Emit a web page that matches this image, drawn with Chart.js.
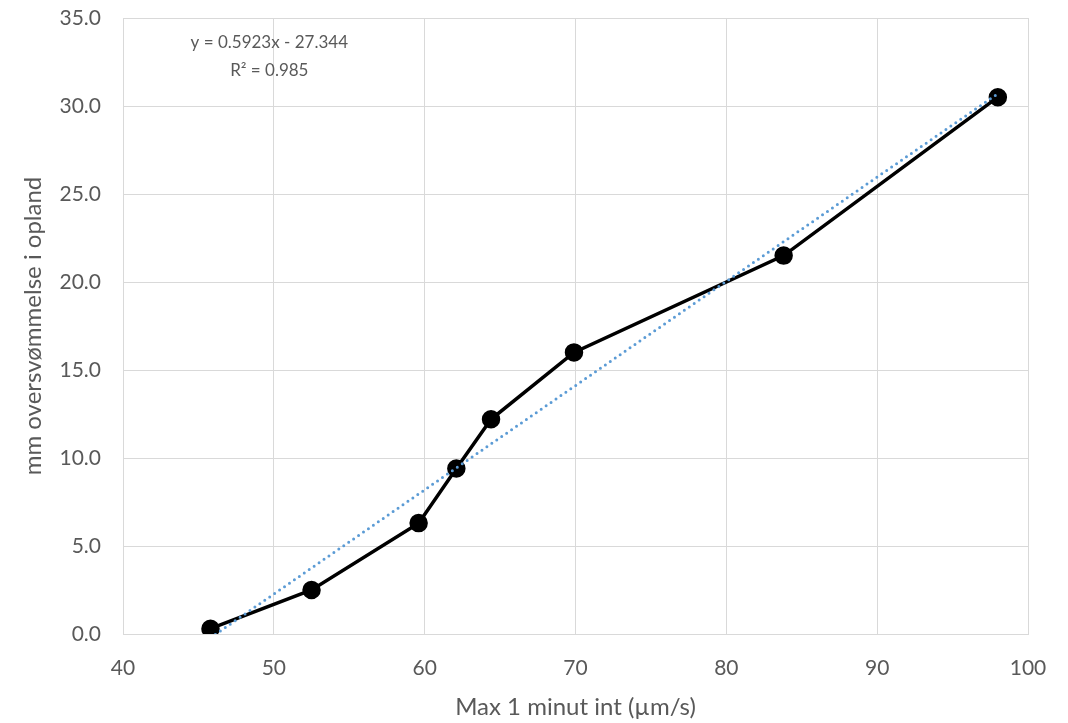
<!DOCTYPE html>
<html>
<head>
<meta charset="utf-8">
<script src="https://cdn.jsdelivr.net/npm/chart.js@4/dist/chart.umd.min.js"></script>
<style>
  html, body { margin: 0; padding: 0; background: #fff; }
  #wrap { width: 1068px; height: 723px; }
</style>
</head>
<body>
<div id="wrap"><canvas id="chart0" width="1068" height="723"></canvas></div>
<script>
// measured points (x = max 1 minut int, y = mm oversvømmelse)
var xValues = [45.8, 52.5, 59.6, 62.1, 64.4, 69.9, 83.8, 98.0];
var yValues = [0.3, 2.5, 6.3, 9.4, 12.2, 16.0, 21.5, 30.5];
// linear trendline from the picture
var slope = 0.5923;
var intercept = -27.344;
var eqLines = ['y = 0.5923x - 27.344', 'R² = 0.985'];

var xTitle = 'Max 1 minut int (µm/s)';
var yTitle = 'mm oversvømmelse i opland';

var points = xValues.map(function (x, i) { return { x: x, y: yValues[i] }; });
var xMin = Math.min.apply(null, xValues);
var xMax = Math.max.apply(null, xValues);
var trend = [
  { x: xMin, y: slope * xMin + intercept },
  { x: xMax, y: slope * xMax + intercept }
];

var grey = '#595959';
var gridColor = '#d9d9d9';
var font = "Lato, 'Open Sans', sans-serif";

// equation label, anchored in data units
var equationPlugin = {
  id: 'equation',
  afterDatasetsDraw: function (chart) {
    var c = chart.ctx;
    var xs = chart.scales.x, ys = chart.scales.y;
    c.save();
    c.fillStyle = grey;
    c.font = '17px ' + font;
    c.textAlign = 'center';
    c.textBaseline = 'middle';
    c.fillText(eqLines[0], xs.getPixelForValue(49.7), ys.getPixelForValue(33.6));
    c.fillText(eqLines[1], xs.getPixelForValue(49.7), ys.getPixelForValue(32.0));
    c.restore();
  }
};

var ctx = document.getElementById('chart0').getContext('2d');
var chart = new Chart(ctx, {
  type: 'scatter',
  data: {
    datasets: [{
      label: 'data',
      data: points,
      showLine: true,
      borderColor: '#000',
      backgroundColor: '#000',
      borderWidth: 3.5,
      pointRadius: 7.5,
      pointHoverRadius: 7.5,
      order: 2
    }, {
      label: 'trend',
      data: trend,
      showLine: true,
      borderColor: '#5b9bd5',
      borderWidth: 3,
      borderDash: [0, 6],
      borderCapStyle: 'round',
      pointRadius: 0,
      order: 1
    }]
  },
  options: {
    responsive: false,
    animation: false,
    layout: { padding: { top: 18, right: 40, left: 19, bottom: 0 } },
    plugins: {
      legend: { display: false },
      tooltip: { enabled: false }
    },
    scales: {
      x: {
        type: 'linear',
        min: 40, max: 100,
        ticks: { stepSize: 10, color: grey, font: { family: font, size: 21 }, padding: 22 },
        grid: { color: gridColor, lineWidth: 1, drawTicks: false },
        border: { color: gridColor },
        title: { display: true, text: xTitle, color: grey, font: { family: font, size: 24 }, padding: { top: 2, bottom: 1 } },
        afterFit: function (s) { s.height = 723 - 634; s.paddingLeft = 0; s.paddingRight = 0; }
      },
      y: {
        min: 0, max: 35,
        ticks: {
          stepSize: 5, color: grey, font: { family: font, size: 21 }, padding: 22,
          callback: function (v) { return v.toFixed(1); }
        },
        grid: { color: gridColor, lineWidth: 1, drawTicks: false },
        border: { color: gridColor },
        title: { display: true, text: yTitle, color: grey, font: { family: font, size: 24 }, padding: { top: 0, bottom: 10 } },
        afterFit: function (s) { s.width = 123 - 19; s.paddingTop = 0; s.paddingBottom = 0; }
      }
    }
  },
  plugins: [equationPlugin]
});
</script>
</body>
</html>
